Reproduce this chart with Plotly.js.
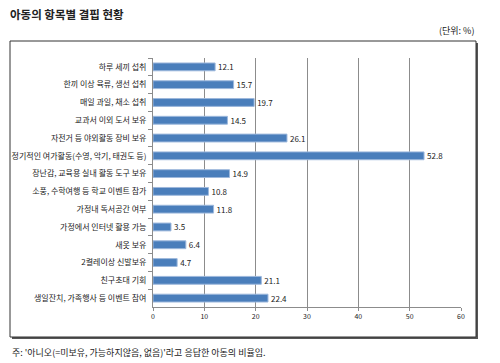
<!DOCTYPE html>
<html><head><meta charset="utf-8">
<script src="https://cdn.plot.ly/plotly-3.0.1.min.js"></script>
<style>html,body{margin:0;padding:0;background:#fff;}#chart{width:500px;height:363px;}</style>
</head><body><div id="chart"></div>
<script>
const categories = [
  "하루 세끼 섭취",
  "한끼 이상 육류, 생선 섭취",
  "매일 과일, 채소 섭취",
  "교과서 이외 도서 보유",
  "자전거 등 야외활동 장비 보유",
  "정기적인 여가활동(수영, 악기, 태권도 등)",
  "장난감, 교육용 실내 활동 도구 보유",
  "소풍, 수학여행 등 학교 이벤트 참가",
  "가정내 독서공간 여부",
  "가정에서 인터넷 활용 가능",
  "새옷 보유",
  "2켤레이상 신발보유",
  "친구초대 기회",
  "생일잔치, 가족행사 등 이벤트 참여"
];
const values = [12.1, 15.7, 19.7, 14.5, 26.1, 52.8, 14.9, 10.8, 11.8, 3.5, 6.4, 4.7, 21.1, 22.4];
const xTicks = [0, 10, 20, 30, 40, 50, 60];

const titleText = "아동의 항목별 결핍 현황";
const unitText = "(단위: %)";
const noteText = "주: '아니오(=미보유, 가능하지않음, 없음)'라고 응답한 아동의 비율임.";

const FONT = "'Noto Sans CJK KR', 'Noto Sans', sans-serif";

const trace = {
  type: 'bar',
  orientation: 'h',
  y: categories,
  x: values,
  text: values.map(v => v.toFixed(1)),
  textposition: 'outside',
  constraintext: 'none',
  cliponaxis: false,
  textfont: {family: FONT, size: 8, color: '#222'},
  marker: {color: '#4a7ebb', line: {color: '#9db8dc', width: 1}},
  width: 0.44,
  hoverinfo: 'skip'
};

// plot area in pixels: left 153, right 461, top 58, bottom 307
const L = 153, R = 461, T = 58, B = 307;
const px = x => (x - L) / (R - L);
const py = y => (B - y) / (B - T);

const layout = {
  width: 500, height: 363,
  margin: {l: L, r: 500 - R, t: T, b: 363 - B, pad: 0},
  paper_bgcolor: '#fff', plot_bgcolor: '#fff',
  showlegend: false,
  font: {family: FONT, size: 8, color: '#222'},
  title: {
    text: '<b>' + titleText + '</b>',
    font: {family: FONT, size: 11.5, color: '#222'},
    xref: 'container', yref: 'container',
    x: 10 / 500, xanchor: 'left',
    y: 1 - 15 / 363, yanchor: 'middle'
  },
  xaxis: {
    range: [0, 60],
    tickvals: xTicks,
    ticktext: xTicks.map(String),
    showgrid: true, gridcolor: '#8c8c8c', gridwidth: 1,
    zeroline: false,
    showline: true, linecolor: '#8c8c8c', linewidth: 1,
    ticks: 'outside', ticklen: 3, tickcolor: '#8c8c8c',
    tickfont: {family: FONT, size: 7, color: '#222'},
    fixedrange: true
  },
  yaxis: {
    type: 'category',
    autorange: 'reversed',
    showline: true, linecolor: '#8c8c8c', linewidth: 1,
    ticks: 'outside', ticklen: 4, tickcolor: '#8c8c8c',
    tickson: 'boundaries',
    showgrid: false,
    tickfont: {family: FONT, size: 8, color: '#222'},
    ticklabelstandoff: 4,
    fixedrange: true
  },
  shapes: [
    {type: 'rect', xref: 'paper', yref: 'paper',
     x0: px(12), x1: px(478), y0: py(43), y1: py(339),
     line: {width: 0}, fillcolor: '#555', layer: 'below'},
    {type: 'rect', xref: 'paper', yref: 'paper',
     x0: px(10), x1: px(476), y0: py(41), y1: py(337),
     line: {color: '#333', width: 1}, fillcolor: '#fff', layer: 'below'}
  ],
  annotations: [
    {text: unitText, xref: 'paper', yref: 'paper', x: px(476), y: py(31),
     xanchor: 'right', yanchor: 'middle', showarrow: false,
     font: {family: FONT, size: 9, color: '#222'}},
    {text: noteText, xref: 'paper', yref: 'paper', x: px(10), y: py(352),
     xanchor: 'left', yanchor: 'middle', showarrow: false,
     font: {family: FONT, size: 9, color: '#222'}}
  ]
};

Plotly.newPlot('chart', [trace], layout, {staticPlot: true, displayModeBar: false});
</script>
</body></html>
